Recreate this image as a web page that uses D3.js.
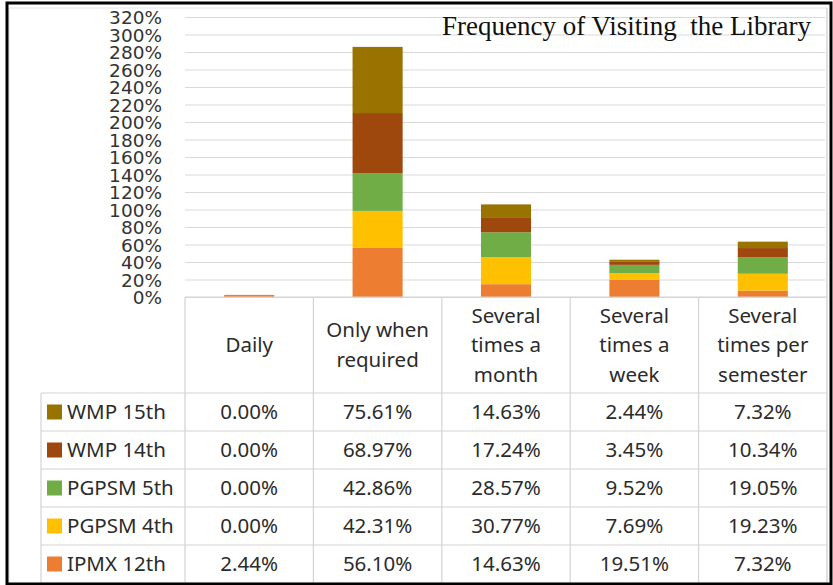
<!DOCTYPE html>
<html>
<head>
<meta charset="utf-8">
<script src="https://cdn.jsdelivr.net/npm/d3@7"></script>
<style>
  html, body { margin: 0; padding: 0; background: #fff; }
  svg { display: block; }
</style>
</head>
<body>
<svg id="mainsvg" width="833" height="585"></svg>
<script>
// categories (columns of the data table)
const categories = ['Daily', 'Only when required', 'Several times a month', 'Several times a week', 'Several times per semester'];
const headerLines = [['Daily'], ['Only when', 'required'], ['Several', 'times a', 'month'], ['Several', 'times a', 'week'], ['Several', 'times per', 'semester']];

// series, bottom of stack first
const seriesNames = ['IPMX 12th', 'PGPSM 4th', 'PGPSM 5th', 'WMP 14th', 'WMP 15th'];
const ipmx12 = [2.44, 56.10, 14.63, 19.51, 7.32];
const pgpsm4 = [0.00, 42.31, 30.77, 7.69, 19.23];
const pgpsm5 = [0.00, 42.86, 28.57, 9.52, 19.05];
const wmp14 = [0.00, 68.97, 17.24, 3.45, 10.34];
const wmp15 = [0.00, 75.61, 14.63, 2.44, 7.32];
const seriesColors = ['#ED7D31', '#FFC000', '#70AD47', '#9E480E', '#997300'];

const yTicks = d3.range(0, 321, 20);
const title = 'Frequency of Visiting\u00a0 the Library';

const seriesValues = [ipmx12, pgpsm4, pgpsm5, wmp14, wmp15];
const rows = categories.map((c, i) => {
  const r = { cat: c };
  seriesNames.forEach((s, j) => { r[s] = seriesValues[j][i]; });
  return r;
});

const svg = d3.select('#mainsvg');
const plot = { left: 185, right: 827, top: 17, bottom: 297 };
const tableBottom = 583;
const legendLeft = 41;
const headerBottom = 393;

const xScale = d3.scaleBand().domain(categories).range([plot.left, plot.right]);
const yScale = d3.scaleLinear().domain([0, 320]).range([plot.bottom, plot.top]);
const color = d3.scaleOrdinal().domain(seriesNames).range(seriesColors);
const rowScale = d3.scaleBand().domain(seriesNames.slice().reverse()).range([headerBottom, tableBottom]);

// faint chart-area border
svg.append('rect')
  .attr('x', 9).attr('y', 8)
  .attr('width', plot.right - 9).attr('height', tableBottom - 8)
  .attr('fill', 'none').attr('stroke', '#e4e4e4');

// gridlines + y axis
const yAxis = d3.axisLeft(yScale)
  .tickValues(yTicks)
  .tickSize(-(plot.right - plot.left))
  .tickFormat(d => d + '%');
const gy = svg.append('g')
  .attr('transform', `translate(${plot.left - 2},0)`)
  .call(yAxis);
gy.select('.domain').remove();
gy.selectAll('.tick line').attr('stroke', '#d9d9d9').attr('stroke-width', 1.2).attr('x1', 2);
gy.selectAll('.tick text')
  .attr('x', -21)
  .attr('dy', '0.36em')
  .attr('fill', '#333')
  .style('font-family', 'DejaVu Sans')
  .style('font-size', '18.5px');

// title
svg.append('text')
  .attr('x', 811).attr('y', 35)
  .attr('text-anchor', 'end')
  .attr('fill', '#111')
  .style('font-family', '"Liberation Serif", serif')
  .style('font-size', '27px')
  .text(title);

// stacked bars
const stacked = d3.stack().keys(seriesNames)(rows);
const barW = xScale.bandwidth() * 0.39;
svg.append('g').selectAll('g')
  .data(stacked)
  .join('g')
  .attr('fill', d => color(d.key))
  .selectAll('rect')
  .data(d => d)
  .join('rect')
  .attr('x', d => xScale(d.data.cat) + (xScale.bandwidth() - barW) / 2)
  .attr('y', d => yScale(d[1]))
  .attr('width', barW)
  .attr('height', d => Math.max(0, yScale(d[0]) - yScale(d[1])));

// data table
const tbl = svg.append('g').attr('stroke', '#d4d4d4').attr('stroke-width', 1.2);
tbl.append('line').attr('x1', plot.left).attr('x2', plot.right).attr('y1', plot.bottom).attr('y2', plot.bottom);
seriesNames.forEach(s => {
  tbl.append('line').attr('x1', legendLeft).attr('x2', plot.right)
    .attr('y1', rowScale(s)).attr('y2', rowScale(s));
});
tbl.append('line').attr('x1', legendLeft).attr('x2', plot.right).attr('y1', tableBottom).attr('y2', tableBottom);
tbl.append('line').attr('x1', legendLeft).attr('x2', legendLeft).attr('y1', headerBottom).attr('y2', tableBottom);
categories.forEach(c => {
  tbl.append('line').attr('x1', xScale(c)).attr('x2', xScale(c)).attr('y1', plot.bottom).attr('y2', tableBottom);
});
tbl.append('line').attr('x1', plot.right).attr('x2', plot.right).attr('y1', 8).attr('y2', tableBottom);

const textStyle = sel => sel
  .attr('fill', '#2b2b2b')
  .style('font-family', '"Noto Sans", sans-serif')
  .style('font-size', '20.5px');

// header labels
const headerMid = (plot.bottom + headerBottom) / 2;
const lineGap = 29.5;
categories.forEach((c, i) => {
  const lines = headerLines[i];
  lines.forEach((ln, k) => {
    svg.append('text')
      .attr('x', xScale(c) + xScale.bandwidth() / 2)
      .attr('y', headerMid + (k - (lines.length - 1) / 2) * lineGap)
      .attr('dy', '0.35em')
      .attr('text-anchor', 'middle')
      .call(textStyle)
      .text(ln);
  });
});

// legend keys + values
const fmt = d3.format('.2f');
seriesNames.forEach((s, j) => {
  const cy = rowScale(s) + rowScale.bandwidth() / 2;
  svg.append('rect')
    .attr('x', 47).attr('y', cy - 7.5)
    .attr('width', 15).attr('height', 15)
    .attr('fill', color(s));
  svg.append('text')
    .attr('x', 67).attr('y', cy).attr('dy', '0.35em')
    .call(textStyle)
    .text(s);
  categories.forEach((c, i) => {
    svg.append('text')
      .attr('x', xScale(c) + xScale.bandwidth() / 2)
      .attr('y', cy).attr('dy', '0.35em')
      .attr('text-anchor', 'middle')
      .call(textStyle)
      .text(fmt(seriesValues[j][i]) + '%');
  });
});

// black outer frame
svg.append('rect')
  .attr('x', 7).attr('y', 3)
  .attr('width', 824).attr('height', 581)
  .attr('fill', 'none').attr('stroke', '#000').attr('stroke-width', 3);
</script>
</body>
</html>
